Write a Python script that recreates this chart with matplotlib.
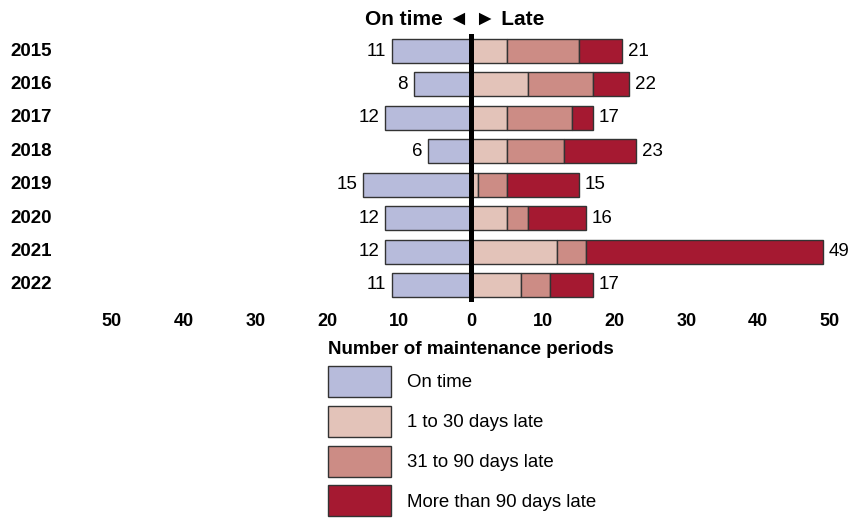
import matplotlib
matplotlib.use("Agg")
import matplotlib.pyplot as plt
import numpy as np
from matplotlib.patches import Patch
from matplotlib.ticker import FuncFormatter
from matplotlib.transforms import blended_transform_factory

years = ["2015", "2016", "2017", "2018", "2019", "2020", "2021", "2022"]
on_time = [11, 8, 12, 6, 15, 12, 12, 11]
late_1_30 = [5, 8, 5, 5, 1, 5, 12, 7]
late_31_90 = [10, 9, 9, 8, 4, 3, 4, 4]
late_90_plus = [6, 5, 3, 10, 10, 8, 33, 6]
ticks = [-50, -40, -30, -20, -10, 0, 10, 20, 30, 40, 50]

C_ON = "#b7bbdb"
C_1 = "#e3c3b9"
C_2 = "#cc8c85"
C_3 = "#a51931"
EDGE = "#333333"

plt.rcParams["font.family"] = ["Liberation Sans", "DejaVu Sans"]
NARROW = ["Liberation Sans Narrow", "Liberation Sans", "DejaVu Sans"]

fig = plt.figure(figsize=(8.54, 5.21), dpi=100, facecolor="white")
ax = fig.add_axes([112 / 854, 1 - 301.7 / 521, (830 - 112) / 854, (301.7 - 34.3) / 521])

y = np.arange(len(years))
h = 0.72
on = np.array(on_time)
a = np.array(late_1_30)
b = np.array(late_31_90)
c = np.array(late_90_plus)

ax.barh(y, -on, height=h, color=C_ON, edgecolor=EDGE, linewidth=1.0)
ax.barh(y, a, height=h, color=C_1, edgecolor=EDGE, linewidth=1.0)
ax.barh(y, b, left=a, height=h, color=C_2, edgecolor=EDGE, linewidth=1.0)
ax.barh(y, c, left=a + b, height=h, color=C_3, edgecolor=EDGE, linewidth=1.0)
ax.axvline(0, color="black", linewidth=3.6, zorder=5)

# year labels sit at the far left of the figure
year_tr = blended_transform_factory(fig.transFigure, ax.transData)
total = a + b + c
for i in range(len(years)):
    ax.text(-on[i] - 0.8, y[i], str(on[i]), ha="right", va="center", fontsize=13.5)
    ax.text(total[i] + 0.8, y[i], str(total[i]), ha="left", va="center", fontsize=13.5)
    ax.text(10 / 854, y[i], years[i], transform=year_tr, ha="left", va="center",
            fontsize=13.5, fontweight="bold")

ax.set_xlim(-50, 50)
ax.set_ylim(len(years) - 0.5, -0.5)
ax.set_xticks(ticks)
ax.xaxis.set_major_formatter(FuncFormatter(lambda v, p: f"{abs(int(v))}"))
for lab in ax.get_xticklabels():
    lab.set_family(NARROW)
    lab.set_fontweight("bold")
    lab.set_fontsize(13)
ax.tick_params(axis="x", length=0, pad=8)
ax.set_yticks([])
for s in ax.spines.values():
    s.set_visible(False)
ax.set_xlabel("Number of maintenance periods", fontsize=13.5, fontweight="bold", labelpad=8)
ax.set_title("On time \u25c4 \u25ba Late", fontsize=15, fontweight="bold", pad=7,
             x=0.477)

handles = [
    Patch(facecolor=C_ON, edgecolor=EDGE, label="On time"),
    Patch(facecolor=C_1, edgecolor=EDGE, label="1 to 30 days late"),
    Patch(facecolor=C_2, edgecolor=EDGE, label="31 to 90 days late"),
    Patch(facecolor=C_3, edgecolor=EDGE, label="More than 90 days late"),
]
fig.legend(handles=handles, loc="upper left", bbox_to_anchor=(328 / 854, 1 - 366 / 521),
           frameon=False, fontsize=13.4, handlelength=3.39, handleheight=2.19,
           labelspacing=0.47, handletextpad=0.86, borderpad=0, borderaxespad=0)

fig.savefig("out.png", dpi=100, facecolor="white")
